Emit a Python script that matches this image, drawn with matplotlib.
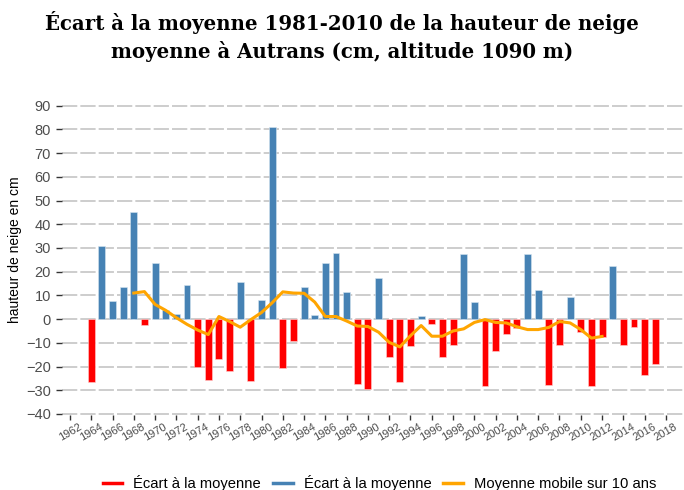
import matplotlib.pyplot as plt
from matplotlib.lines import Line2D

# écart annuel à la moyenne 1981-2010 (cm)
years = list(range(1964, 2018))
ecarts = [-26.4, 30.7, 7.6, 13.6, 45.1, -2.4, 23.6, 3.7, 2.2, 14.2,
          -20.0, -25.7, -16.7, -21.7, 15.8, -26.0, 8.0, 81.0, -20.5, -9.3,
          13.4, 1.8, 23.8, 27.7, 11.4, -27.3, -29.3, 17.4, -16.0, -26.4,
          -11.3, 1.5, -2.1, -15.8, -11.1, 27.4, 7.3, -28.0, -13.5, -6.2,
          -3.8, 27.4, 12.2, -27.7, -10.8, 9.4, -5.6, -28.0, -7.6, 22.4,
          -11.1, -3.2, -23.5, -19.1]

# moyenne mobile sur 10 ans
mm_years = list(range(1968, 2013))
mm_values = [11.0, 11.6, 6.2, 3.7, 0.6, -2.2, -4.6, -6.5, 1.1, -1.0,
             -3.4, -0.2, 2.8, 6.9, 11.5, 11.0, 10.9, 7.2, 1.1, 1.1,
             -0.8, -2.9, -3.1, -5.5, -9.8, -11.7, -7.0, -2.7, -7.2, -7.2,
             -5.0, -4.1, -1.4, -0.2, -1.4, -1.6, -3.2, -4.4, -4.4, -3.5,
             -1.0, -1.6, -4.4, -8.0, -7.3]

xticks = list(range(1962, 2019, 2))
yticks = list(range(-40, 91, 10))

plt.rcParams['font.family'] = ['Liberation Sans', 'DejaVu Sans']

fig = plt.figure(figsize=(6.84, 4.90), dpi=100)
ax = fig.add_axes([0.0906, 0.1527, 0.9094, 0.634])

neg_x = [y for y, v in zip(years, ecarts) if v < 0]
neg_v = [v for v in ecarts if v < 0]
pos_x = [y for y, v in zip(years, ecarts) if v >= 0]
pos_v = [v for v in ecarts if v >= 0]

ax.bar(neg_x, neg_v, width=0.65, color='#ff0000', edgecolor='#ffd0d0', linewidth=0.4, zorder=3)
ax.bar(pos_x, pos_v, width=0.65, color='#4682b4', edgecolor='#d6e4f0', linewidth=0.4, zorder=3)
ax.plot(mm_years, mm_values, color='#ffa500', linewidth=2.2, zorder=4)

ax.set_xlim(1961.25, 2019.7)
ax.set_ylim(-40.5, 90.5)
ax.set_xticks(xticks)
ax.set_xticklabels([str(x) for x in xticks], rotation=30, ha='center', va='top',
                   fontsize=8, color='#4d4d4d')
ax.set_yticks(yticks)
ax.set_yticklabels([str(v).replace('-', '\u2212') for v in yticks], fontsize=10.5, color='#4d4d4d')
ax.tick_params(axis='y', length=4, width=1, color='#333333', pad=4)
ax.tick_params(axis='x', length=3.5, width=1, color='#333333', pad=1)
for s in ax.spines.values():
    s.set_visible(False)
ax.yaxis.grid(True, color='#c0c0c0', linewidth=1.1, linestyle=(0, (10, 2)), zorder=0)
ax.set_axisbelow(True)

ax.set_ylabel('hauteur de neige en cm', fontsize=10)
ax.yaxis.label.set_va('center')
ax.yaxis.set_label_coords(-0.0748, 0.532)

fig.text(0.5, 0.978, 'Écart à la moyenne 1981-2010 de la hauteur de neige\nmoyenne à Autrans (cm, altitude 1090 m)',
         ha='center', va='top', fontsize=14.2, fontweight='bold', family='DejaVu Serif',
         linespacing=1.4)

handles = [Line2D([], [], color='#ff0000', lw=2.5),
           Line2D([], [], color='#4682b4', lw=2.5),
           Line2D([], [], color='#ffa500', lw=2.5)]
labels = ['Écart à la moyenne', 'Écart à la moyenne', 'Moyenne mobile sur 10 ans']
fig.legend(handles, labels, loc='center', bbox_to_anchor=(0.555, 0.0135), ncol=3,
           frameon=False, fontsize=10.6, handlelength=1.35, handletextpad=0.75,
           columnspacing=0.8, borderpad=0)

fig.savefig('out.png', dpi=100)
